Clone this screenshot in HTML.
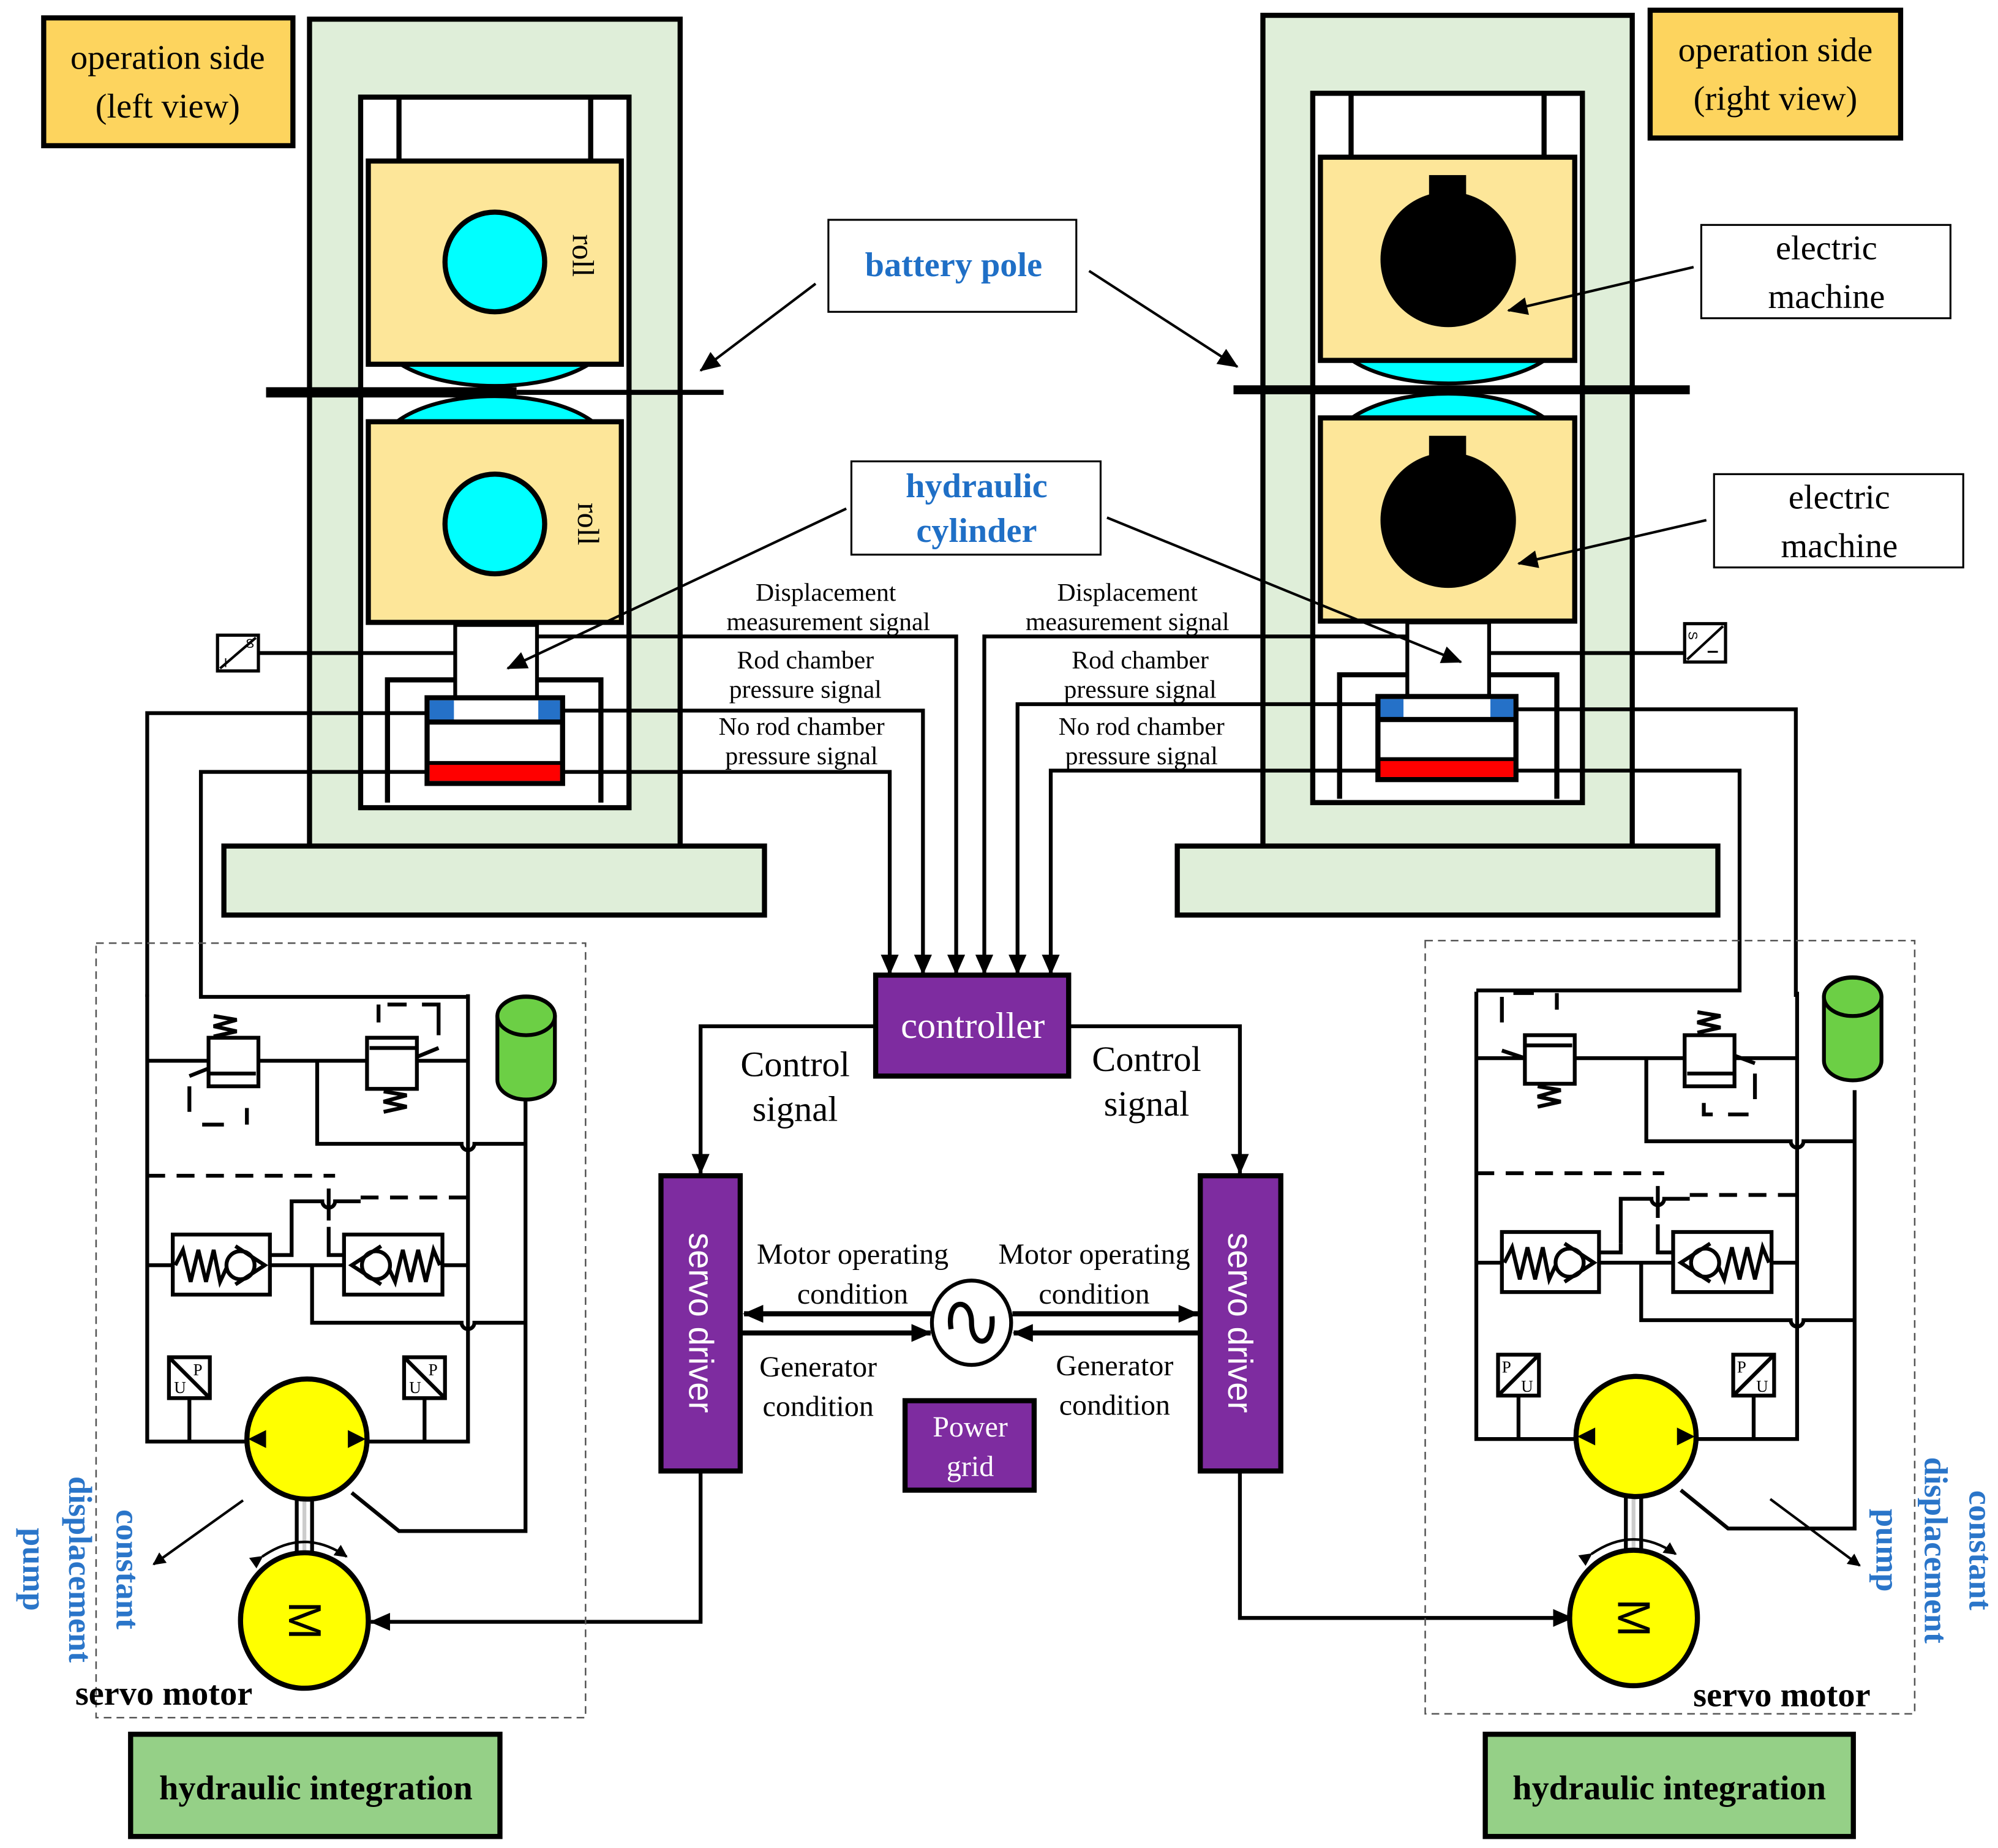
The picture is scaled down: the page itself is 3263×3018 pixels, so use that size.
<!DOCTYPE html>
<html><head><meta charset="utf-8"><style>
html,body{margin:0;padding:0;background:#fff}
svg{display:block}
text{font-family:"Liberation Serif",serif}
</style></head><body>
<svg width="3263" height="3018" viewBox="0 0 1563 1446" xmlns="http://www.w3.org/2000/svg">
<defs>
<marker id="ah" markerWidth="10" markerHeight="10" refX="9" refY="5" orient="auto" markerUnits="userSpaceOnUse"><path d="M0,0 L10,5 L0,10 Z" fill="#000"/></marker>
<marker id="ab" markerWidth="16" markerHeight="14" refX="15" refY="7" orient="auto" markerUnits="userSpaceOnUse"><path d="M0,0 L16,7 L0,14 Z" fill="#000"/></marker>
<g id="hyd">
 <g fill="none" stroke="#000" stroke-width="3">
  <path d="M115 778 V1128 H192"/>
  <path d="M366 778 V1128 H288"/>
  <path d="M115 830 H366"/>
  <path d="M248 830 V895 H361 a5 5 0 0 0 10 0 H411"/>
  <path d="M115 990 H366"/>
  <path d="M244 990 V1035 H361 a5 5 0 0 0 10 0 H411"/>
  <path d="M411 855 V1198 H312 L275 1168"/>
  <path d="M148 1094 V1128 M332 1094 V1128"/>
  <path d="M115 920 H262" stroke-dasharray="14 9"/>
  <path d="M228 975 V940 H252 a5 5 0 0 0 10 0 H282"/>
  <path d="M282 937 H366" stroke-dasharray="14 9"/>
  <path d="M257 930 V955"/>
  <path d="M211 982 H228 V975 M257 960 V982 H269"/>
  <rect x="135" y="966" width="76" height="47" fill="#fff"/>
  <path d="M137 990 L143 978 L149 1003 L155 978 L161 1003 L167 978 L172 1003 L178 990"/>
  <circle cx="188" cy="990" r="11" fill="#fff"/>
  <path d="M184 975 L207 990 L184 1005"/>
  <rect x="269" y="966" width="77" height="47" fill="#fff"/>
  <path d="M344 990 L339 978 L333 1003 L327 978 L321 1003 L315 978 L309 1003 L303 990"/>
  <circle cx="294" cy="990" r="11" fill="#fff"/>
  <path d="M298 975 L275 990 L298 1005"/>
 </g>
 <path d="M232 1172 V1222 M244 1172 V1222" stroke="#000" stroke-width="3"/>
 <path d="M238 1172 V1222" stroke="#ccc" stroke-width="3"/>
 <ellipse cx="240" cy="1126" rx="47" ry="47" fill="#ff0" stroke="#000" stroke-width="4"/>
 <path d="M194 1126 L208 1119 L208 1133 Z M286 1126 L272 1119 L272 1133 Z" fill="#000"/>
 <path d="M205 1218 Q238 1195 271 1218" fill="none" stroke="#000" stroke-width="2" marker-start="url(#ah)" marker-end="url(#ah)"/>
 <ellipse cx="238" cy="1268" rx="50" ry="53" fill="#ff0" stroke="#000" stroke-width="4"/>
 <text x="238" y="1268" font-size="36" text-anchor="middle" transform="rotate(90 238 1268)" dy="12" style="font-family:'Liberation Sans',sans-serif">M</text>
</g>
<g id="acc">
 <path d="M389 795 V845 A22 15 0 0 0 434 845 V795 A22 15 0 0 0 389 795 Z" fill="#6ccf45" stroke="#000" stroke-width="3"/>
 <ellipse cx="411.5" cy="795" rx="22.5" ry="15" fill="#6ccf45" stroke="#000" stroke-width="3"/>
</g>
</defs>

<!-- ===== LEFT STAND ===== -->
<rect x="242" y="15" width="290" height="647" fill="#dfeed9" stroke="#000" stroke-width="4"/>
<rect x="282" y="76" width="210" height="556" fill="#fff" stroke="#000" stroke-width="4"/>
<path d="M312 76 V126 M462 76 V126" stroke="#000" stroke-width="4"/>
<ellipse cx="387" cy="262" rx="90" ry="40" fill="#0ff" stroke="#000" stroke-width="3"/>
<ellipse cx="387" cy="352" rx="90" ry="42" fill="#0ff" stroke="#000" stroke-width="3"/>
<rect x="288" y="126" width="198" height="159" fill="#fde699" stroke="#000" stroke-width="4"/>
<rect x="288" y="330" width="198" height="157" fill="#fde699" stroke="#000" stroke-width="4"/>
<ellipse cx="387" cy="205" rx="39" ry="39" fill="#0ff" stroke="#000" stroke-width="4"/>
<ellipse cx="387" cy="410" rx="39" ry="39" fill="#0ff" stroke="#000" stroke-width="4"/>
<text x="456" y="200" font-size="24" text-anchor="middle" transform="rotate(90 456 200)" dy="8">roll</text>
<text x="460" y="410" font-size="24" text-anchor="middle" transform="rotate(90 460 410)" dy="8">roll</text>
<path d="M208 307 H404" stroke="#000" stroke-width="8"/>
<path d="M404 307 H566" stroke="#000" stroke-width="4"/>
<path d="M303 628 V532 H356 M420 532 H470 V628" fill="none" stroke="#000" stroke-width="4"/>
<rect x="356" y="489" width="64" height="76" fill="#fff" stroke="#000" stroke-width="3"/>
<rect x="334" y="546" width="106" height="67" fill="#fff" stroke="#000" stroke-width="4"/>
<rect x="336" y="548" width="19" height="16" fill="#2571c8"/>
<rect x="421" y="548" width="17" height="16" fill="#2571c8"/>
<path d="M334 565 H440" stroke="#000" stroke-width="4"/>
<rect x="336" y="598" width="102" height="13" fill="#f00"/>
<path d="M334 597 H440" stroke="#000" stroke-width="3"/>
<rect x="175" y="662" width="423" height="54" fill="#dfeed9" stroke="#000" stroke-width="4"/>

<!-- ===== RIGHT STAND ===== -->
<rect x="988" y="12" width="289" height="650" fill="#dfeed9" stroke="#000" stroke-width="4"/>
<rect x="1027" y="73" width="211" height="555" fill="#fff" stroke="#000" stroke-width="4"/>
<path d="M1057 73 V123 M1208 73 V123" stroke="#000" stroke-width="4"/>
<ellipse cx="1133" cy="260" rx="90" ry="40" fill="#0ff" stroke="#000" stroke-width="3"/>
<ellipse cx="1133" cy="350" rx="90" ry="42" fill="#0ff" stroke="#000" stroke-width="3"/>
<rect x="1033" y="123" width="199" height="159" fill="#fde699" stroke="#000" stroke-width="4"/>
<rect x="1033" y="327" width="199" height="159" fill="#fde699" stroke="#000" stroke-width="4"/>
<circle cx="1133" cy="203" r="53" fill="#000"/>
<rect x="1118" y="137" width="29" height="20" fill="#000"/>
<circle cx="1133" cy="407" r="53" fill="#000"/>
<rect x="1118" y="341" width="29" height="20" fill="#000"/>
<path d="M965 305 H1322" stroke="#000" stroke-width="7"/>
<path d="M1048 625 V528 H1101 M1165 528 H1218 V625" fill="none" stroke="#000" stroke-width="4"/>
<rect x="1101" y="487" width="64" height="74" fill="#fff" stroke="#000" stroke-width="3"/>
<rect x="1078" y="545" width="108" height="65" fill="#fff" stroke="#000" stroke-width="4"/>
<rect x="1080" y="547" width="18" height="15" fill="#2571c8"/>
<rect x="1166" y="547" width="18" height="15" fill="#2571c8"/>
<path d="M1078 563 H1186" stroke="#000" stroke-width="4"/>
<rect x="1080" y="595" width="104" height="13" fill="#f00"/>
<path d="M1078 594 H1186" stroke="#000" stroke-width="3"/>
<rect x="921" y="662" width="423" height="54" fill="#dfeed9" stroke="#000" stroke-width="4"/>

<!-- ===== SIGNAL LINES ===== -->
<g fill="none" stroke="#000" stroke-width="3">
 <path d="M420 498 H748 V762" marker-end="url(#ab)"/>
 <path d="M440 556 H722 V762" marker-end="url(#ab)"/>
 <path d="M440 604 H696 V762" marker-end="url(#ab)"/>
 <path d="M1101 498 H770 V762" marker-end="url(#ab)"/>
 <path d="M1078 551 H796 V762" marker-end="url(#ab)"/>
 <path d="M1080 603 H822 V762" marker-end="url(#ab)"/>
 <path d="M202 511 H356"/>
 <path d="M1165 511 H1318"/>
 <path d="M334 558 H115 V780"/>
 <path d="M334 604 H157 V780 H366"/>
 <path d="M1186 555 H1405 V780"/>
 <path d="M1186 603 H1361 V775 H1155"/>
</g>
<rect x="170" y="497" width="32" height="28" fill="#fff" stroke="#000" stroke-width="2.5"/>
<path d="M172 523 L200 499" stroke="#000" stroke-width="2"/>
<text x="192" y="507" font-size="10" style="font-family:'Liberation Sans',sans-serif">S</text>
<text x="175" y="522" font-size="10" style="font-family:'Liberation Sans',sans-serif">I</text>
<rect x="1318" y="488" width="32" height="30" fill="#fff" stroke="#000" stroke-width="2.5"/>
<path d="M1320 516 L1348 490" stroke="#000" stroke-width="2"/>
<text x="1321" y="500" font-size="10" transform="rotate(90 1324 497)" style="font-family:'Liberation Sans',sans-serif">S</text>
<path d="M1336 510 H1344" stroke="#000" stroke-width="1.5"/>

<g font-size="20" text-anchor="middle">
 <text x="646" y="470">Displacement</text>
 <text x="648" y="493">measurement signal</text>
 <text x="630" y="523">Rod chamber</text>
 <text x="630" y="546">pressure signal</text>
 <text x="627" y="575">No rod chamber</text>
 <text x="627" y="598">pressure signal</text>
 <text x="882" y="470">Displacement</text>
 <text x="882" y="493">measurement  signal</text>
 <text x="892" y="523">Rod chamber</text>
 <text x="892" y="546">pressure signal</text>
 <text x="893" y="575">No rod chamber</text>
 <text x="893" y="598">pressure signal</text>
</g>

<!-- labels -->
<rect x="34" y="14" width="195" height="100" fill="#fdd45e" stroke="#000" stroke-width="4"/>
<text x="131" y="54" font-size="27" text-anchor="middle">operation side</text>
<text x="131" y="92" font-size="27" text-anchor="middle">(left view)</text>
<rect x="1291" y="8" width="196" height="100" fill="#fdd45e" stroke="#000" stroke-width="4"/>
<text x="1389" y="48" font-size="27" text-anchor="middle">operation side</text>
<text x="1389" y="86" font-size="27" text-anchor="middle">(right view)</text>
<rect x="648" y="172" width="194" height="72" fill="#fff" stroke="#000" stroke-width="1.5"/>
<text x="746" y="216" font-size="27" font-weight="bold" fill="#1f6fc6" text-anchor="middle">battery pole</text>
<rect x="666" y="361" width="195" height="73" fill="#fff" stroke="#000" stroke-width="1.5"/>
<text x="764" y="389" font-size="27" font-weight="bold" fill="#1f6fc6" text-anchor="middle">hydraulic</text>
<text x="764" y="424" font-size="27" font-weight="bold" fill="#1f6fc6" text-anchor="middle">cylinder</text>
<rect x="1331" y="176" width="195" height="73" fill="#fff" stroke="#000" stroke-width="1.5"/>
<text x="1429" y="203" font-size="27" text-anchor="middle">electric</text>
<text x="1429" y="241" font-size="27" text-anchor="middle">machine</text>
<rect x="1341" y="371" width="195" height="73" fill="#fff" stroke="#000" stroke-width="1.5"/>
<text x="1439" y="398" font-size="27" text-anchor="middle">electric</text>
<text x="1439" y="436" font-size="27" text-anchor="middle">machine</text>
<g stroke="#000" stroke-width="2" fill="none">
 <path d="M638 222 L548 290" marker-end="url(#ab)"/>
 <path d="M852 212 L968 287" marker-end="url(#ab)"/>
 <path d="M1325 209 L1180 243" marker-end="url(#ab)"/>
 <path d="M1335 407 L1188 441" marker-end="url(#ab)"/>
 <path d="M662 398 L397 523" marker-end="url(#ab)"/>
 <path d="M866 405 L1143 518" marker-end="url(#ab)"/>
</g>

<!-- controller & drivers -->
<rect x="685" y="763" width="151" height="79" fill="#7e2ca0" stroke="#000" stroke-width="4"/>
<text x="761" y="812" font-size="29" fill="#fff" text-anchor="middle">controller</text>
<g fill="none" stroke="#000" stroke-width="3">
 <path d="M685 803 H548 V918" marker-end="url(#ab)"/>
 <path d="M836 803 H970 V918" marker-end="url(#ab)"/>
 <path d="M548 1151 V1269 H290" marker-end="url(#ab)"/>
 <path d="M970 1151 V1266 H1230" marker-end="url(#ab)"/>
</g>
<text x="622" y="842" font-size="28" text-anchor="middle">Control</text>
<text x="622" y="877" font-size="28" text-anchor="middle">signal</text>
<text x="897" y="838" font-size="28" text-anchor="middle">Control</text>
<text x="897" y="873" font-size="28" text-anchor="middle">signal</text>
<rect x="517" y="920" width="62" height="231" fill="#7e2ca0" stroke="#000" stroke-width="4"/>
<text x="548" y="1035" font-size="27" fill="#fff" text-anchor="middle" dy="9" transform="rotate(90 548 1035)" style="font-family:'Liberation Sans',sans-serif">servo driver</text>
<rect x="939" y="920" width="63" height="231" fill="#7e2ca0" stroke="#000" stroke-width="4"/>
<text x="970" y="1035" font-size="27" fill="#fff" text-anchor="middle" dy="9" transform="rotate(90 970 1035)" style="font-family:'Liberation Sans',sans-serif">servo driver</text>
<ellipse cx="760" cy="1035" rx="31" ry="33" fill="#fff" stroke="#000" stroke-width="3"/>
<path d="M744 1040 C740 1015 760 1015 760 1035 C760 1055 778 1055 776 1030" fill="none" stroke="#000" stroke-width="4"/>
<g stroke="#000" stroke-width="4" fill="none">
 <path d="M729 1028 H582" marker-end="url(#ab)"/>
 <path d="M579 1043 H728" marker-end="url(#ab)"/>
 <path d="M792 1028 H937" marker-end="url(#ab)"/>
 <path d="M939 1043 H793" marker-end="url(#ab)"/>
</g>
<g font-size="23" text-anchor="middle">
 <text x="667" y="989">Motor operating</text>
 <text x="667" y="1020">condition</text>
 <text x="640" y="1077">Generator</text>
 <text x="640" y="1108">condition</text>
 <text x="856" y="989">Motor operating</text>
 <text x="856" y="1020">condition</text>
 <text x="872" y="1076">Generator</text>
 <text x="872" y="1107">condition</text>
</g>
<rect x="708" y="1096" width="101" height="70" fill="#7e2ca0" stroke="#000" stroke-width="4"/>
<text x="759" y="1124" font-size="23" fill="#fff" text-anchor="middle">Power</text>
<text x="759" y="1155" font-size="23" fill="#fff" text-anchor="middle">grid</text>

<!-- hydraulic units -->
<rect x="75" y="738" width="383" height="606" fill="none" stroke="#555" stroke-width="1.2" stroke-dasharray="6 4"/>
<rect x="1115" y="736" width="383" height="605" fill="none" stroke="#555" stroke-width="1.2" stroke-dasharray="6 4"/>
<use href="#hyd"/>
<use href="#hyd" transform="translate(1040,-2)"/>
<use href="#acc"/>
<use href="#acc" transform="translate(1038,-15)"/>

<g fill="none" stroke="#000" stroke-width="3">
 <!-- left relief valves -->
 <rect x="163" y="812" width="39" height="38" fill="#fff"/>
 <path d="M163 840 H200"/>
 <path d="M167 795 L185 798 L167 803 L185 807 L167 811"/>
 <path d="M148 842 L163 836"/>
 <path d="M148 850 V870 M158 880 H175 M193 880 V867"/>
 <rect x="287" y="812" width="39" height="40" fill="#fff"/>
 <path d="M289 820 H326"/>
 <path d="M300 854 L318 857 L300 862 L318 866 L300 870"/>
 <path d="M326 827 L343 820"/>
 <path d="M296 786 V800 M303 786 H318 M330 786 H343 V810"/>
 <!-- right relief valves -->
 <rect x="1193" y="810" width="39" height="38" fill="#fff"/>
 <path d="M1193 818 H1230"/>
 <path d="M1203 850 L1221 853 L1203 858 L1221 862 L1203 866"/>
 <path d="M1175 822 L1193 828"/>
 <path d="M1175 780 V800 M1184 777 H1200 M1218 777 V790"/>
 <rect x="1318" y="810" width="39" height="40" fill="#fff"/>
 <path d="M1320 840 H1357"/>
 <path d="M1328 792 L1346 795 L1328 800 L1346 804 L1328 808"/>
 <path d="M1357 826 L1373 832"/>
 <path d="M1373 840 V860 M1333 863 V872 H1340 M1352 872 H1368"/>
 <!-- PU sensors -->
 <rect x="132" y="1062" width="32" height="32" fill="#fff"/>
 <path d="M132 1062 L164 1094"/>
 <rect x="316" y="1062" width="32" height="32" fill="#fff"/>
 <path d="M316 1062 L348 1094"/>
 <rect x="1172" y="1060" width="32" height="32" fill="#fff"/>
 <path d="M1172 1092 L1204 1060"/>
 <rect x="1356" y="1060" width="32" height="32" fill="#fff"/>
 <path d="M1356 1092 L1388 1060"/>
</g>
<g font-size="13" style="font-family:'Liberation Sans',sans-serif">
 <text x="151" y="1076">P</text><text x="136" y="1090">U</text>
 <text x="335" y="1076">P</text><text x="320" y="1090">U</text>
 <text x="1175" y="1074">P</text><text x="1190" y="1089">U</text>
 <text x="1359" y="1074">P</text><text x="1374" y="1089">U</text>
</g>
<path d="M190 1174 L120 1224" stroke="#000" stroke-width="2" marker-end="url(#ah)"/>
<path d="M1385 1173 L1455 1225" stroke="#000" stroke-width="2" marker-end="url(#ah)"/>

<rect x="102" y="1357" width="289" height="80" fill="#95d087" stroke="#000" stroke-width="4"/>
<text x="247" y="1408" font-size="27" font-weight="bold" text-anchor="middle">hydraulic integration</text>
<rect x="1162" y="1357" width="288" height="80" fill="#95d087" stroke="#000" stroke-width="4"/>
<text x="1306" y="1408" font-size="27" font-weight="bold" text-anchor="middle">hydraulic integration</text>
<text x="128" y="1334" font-size="27" font-weight="bold" text-anchor="middle">servo motor</text>
<text x="1394" y="1335" font-size="27" font-weight="bold" text-anchor="middle">servo motor</text>
<g font-size="26" font-weight="bold" fill="#2a75c9" text-anchor="middle">
 <text transform="translate(100,1228) rotate(90)" dy="9">constant</text>
 <text transform="translate(63,1228) rotate(90)" dy="9">displacement</text>
 <text transform="translate(27,1228) rotate(90)" dy="9">pump</text>
 <text transform="translate(1550,1213) rotate(90)" dy="9">constant</text>
 <text transform="translate(1515,1213) rotate(90)" dy="9">displacement</text>
 <text transform="translate(1477,1213) rotate(90)" dy="9">pump</text>
</g>
</svg>
</body></html>
